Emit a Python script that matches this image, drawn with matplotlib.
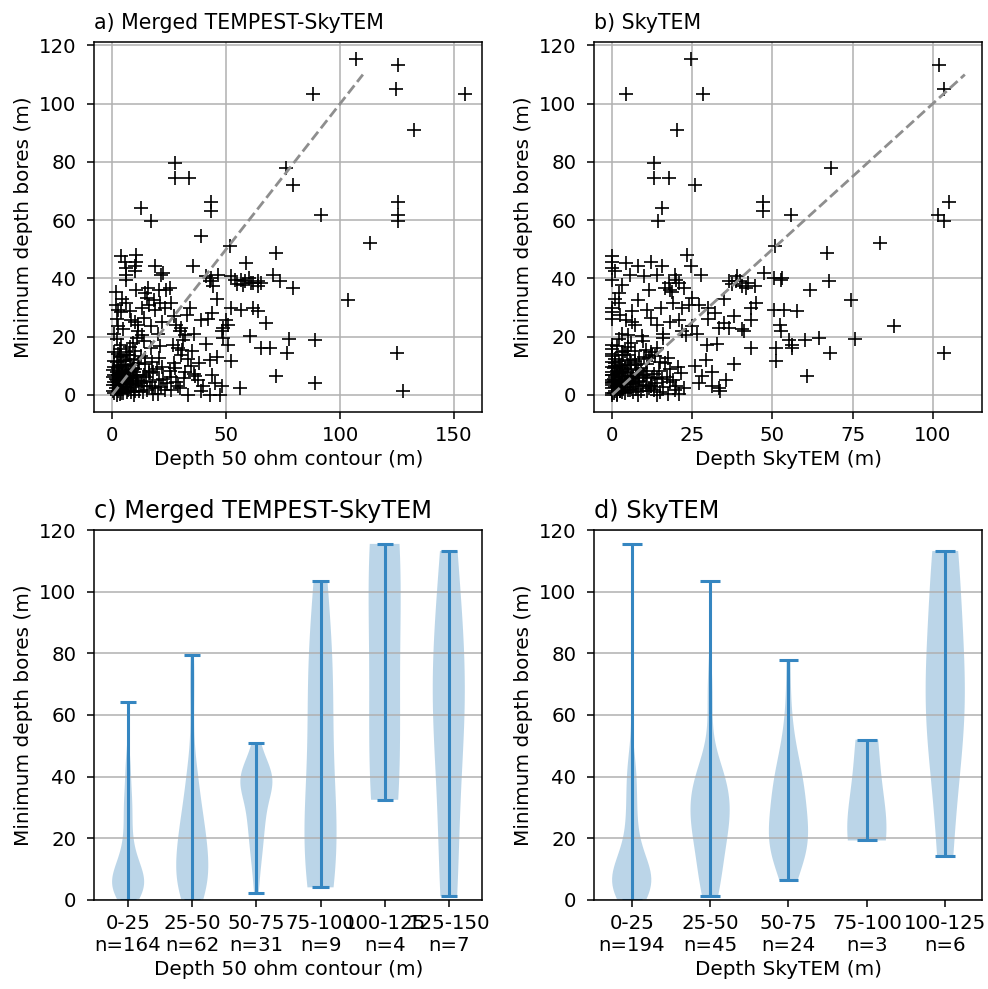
"""
Bore depth vs. 50 ohm contour depth — scatter + binned violins.
"""
import numpy as np
import matplotlib
matplotlib.use("Agg")  # headless
import matplotlib.pyplot as plt

nan = np.nan

# one entry per bore: minimum depth, merged TEMPEST-SkyTEM depth, SkyTEM depth
bore_depth = [
    115.5, 113.2, 104.9, 103.4, 103.4, 91.0, 79.6, 77.9, 74.5, 74.5, 72.2, 66.1, 66.1, 64.2, 63.0, 61.9, 61.9, 59.6, 59.6, 54.5, 52.0, 51.0,
    48.7, 48.1, 47.6, 45.8, 45.8, 45.3, 44.1, 44.1, 44.1, 43.6, 42.4, 41.8, 41.3, 41.3, 41.3, 41.3, 40.7, 40.7, 40.1, 40.0, 39.6, 39.6, 39.5, 39.0, 39.0,
    39.0, 39.0, 38.5, 38.4, 38.4, 38.0, 37.8, 37.3, 37.3, 36.7, 36.7, 36.7, 36.1, 36.1, 36.1, 35.5, 35.0,
    33.3, 33.0, 33.0, 32.7, 32.5, 31.5, 31.5, 31.5, 31.0, 31.0, 30.0, 29.8, 29.8, 29.8, 29.8, 29.2, 29.2, 29.2, 28.7, 28.7, 28.5, 28.0, 27.5, 27.0, 26.5,
    26.0, 26.0, 25.8, 25.8, 25.8, 25.2, 25.0, 24.7, 24.1, 24.1, 24.0, 23.5, 23.5, 23.0, 23.0, 22.5, 21.8, 21.8, 21.8, 21.0, 21.0, 21.0, 20.6, 20.5, 20.1,
    19.5, 19.3, 19.0, 18.7, 17.5, 17.2, 17.2, 16.1, 16.1, 16.0, 15.0, 14.4, 14.4, 13.8, 13.0, 12.1, 11.5, 11.0, 11.0, 9.8,
    8.1, 8.0, 7.0, 6.4, 6.4, 6.0, 5.2, 4.5, 4.1, 4.0, 3.0, 2.9, 2.5, 2.4, 1.8, 1.5, 1.2, 0.1, 0.1, 0.1,
    0.0, 0.2, 0.5, 0.8, 1.0, 1.2, 1.5, 1.8, 0.3, 0.6, 1.1, 1.4, 1.9, 0.4, 1.6, 0.9, 1.3, 1.7, 0.1, 2.0,
    2.2, 2.4, 2.6, 2.8, 3.0, 3.2, 3.4, 3.6, 3.8, 4.0, 4.2, 4.4, 4.6, 4.8, 2.3, 2.7, 3.1, 3.5, 3.9, 4.3, 4.7, 2.5, 2.9, 3.3, 3.7, 4.1, 4.5, 4.9,
    5.0, 5.2, 5.4, 5.6, 5.8, 6.0, 6.2, 6.4, 6.6, 6.8, 7.0, 7.2, 7.4, 7.6, 7.8, 5.1, 5.5, 5.9, 6.3, 6.7, 7.1, 7.5, 7.9, 5.3, 6.1, 6.9, 7.7, 5.7,
    8.0, 8.3, 8.6, 8.9, 9.2, 9.5, 9.8, 10.1, 10.4, 10.7, 8.2, 8.8, 9.4, 10.0, 10.6, 8.5, 9.1, 9.7, 10.3, 10.9,
    11.2, 11.6, 12.0, 12.4, 12.8, 13.2, 13.6, 11.4, 11.8, 12.2, 12.6, 13.0, 13.4, 13.8,
    14.2, 14.6, 15.0, 15.4, 15.8, 16.2, 16.6, 14.8, 16.9,
    17.3, 17.9, 18.5, 19.1, 19.7,
]
depth_merged = [
    106.9, 125.4, 124.6, 88.2, 154.7, 132.5, 27.5, 76.2, 27.5, 33.8, 79.4, 43.6, 125.3, 12.6, 43.6, 91.5, 125.3, 17.0, 125.5, 39.2, 113.0, 51.6,
    72.1, 10.7, 4.1, 5.6, 10.7, 58.9, 9.9, 19.0, 35.5, 6.3, 9.9, 22.5, 6.3, 21.6, 46.5, 70.6, 41.4, 52.3, 43.6, 60.0, 6.3, 56.7, 54.0, 42.8, 58.2,
    64.0, 73.5, 62.0, 61.1, 65.5, 55.0, 57.5, 44.3, 64.0, 79.5, 15.8, 25.3, 10.7, 20.5, 23.5, 1.9, 14.3,
    15.1, 4.5, 46.0, 18.5, 103.4, 6.0, 21.0, 26.0, 1.5, 16.0, 34.0, 12.9, 23.1, 52.3, 61.8, 2.6, 18.7, 56.7, 7.8, 64.0, 4.0, 44.0, 33.0, 27.0, 14.0,
    2.0, 42.0, 8.5, 39.2, 50.1, 10.0, 22.0, 67.7, 11.4, 50.9, 28.0, 2.5, 17.0, 30.4, 48.7, 5.0, 11.4, 29.7, 48.0, 1.0, 20.0, 36.0, 31.9, 13.0, 60.4,
    48.7, 77.4, 31.0, 89.0, 41.0, 50.9, 26.8, 65.5, 69.2, 29.0, 35.0, 76.6, 125.1, 30.4, 46.0, 42.8, 52.3, 38.0, 27.0, 34.8,
    25.3, 32.0, 44.0, 72.1, 36.3, 26.0, 37.7, 28.0, 89.0, 45.0, 40.0, 48.0, 30.0, 56.0, 26.0, 39.0, 127.4, 47.2, 42.8, 33.3,
    2.0, 3.5, 1.0, 5.0, 8.5, 12.0, 2.5, 15.5, 20.0, 4.0, 6.5, 10.0, 3.0, 18.0, 7.0, 13.5, 0.5, 23.0, 9.5, 4.5,
    1.5, 3.0, 5.5, 8.0, 29.0, 14.0, 2.0, 4.0, 6.0, 9.0, 12.5, 16.5, 2.5, 7.5, 19.0, 21.5, 3.5, 10.5, 5.0, 1.0, 13.0, 6.5, 17.5, 0.5, 8.5, 24.0, 4.5, 11.5,
    2.0, 4.0, 6.5, 9.0, 31.5, 15.0, 3.0, 5.5, 8.0, 1.0, 10.5, 36.0, 3.5, 6.0, 18.0, 20.5, 1.5, 7.0, 11.0, 2.5, 4.5, 16.0, 9.5, 22.5, 0.5, 14.0, 5.0, 8.5,
    2.0, 4.5, 7.0, 10.0, 27.5, 1.0, 3.0, 5.5, 8.5, 11.5, 16.0, 19.5, 2.5, 6.0, 14.5, 0.5, 9.0, 22.0, 4.0, 12.0,
    2.0, 5.0, 8.0, 33.5, 14.5, 3.5, 6.5, 17.5, 1.0, 9.5, 20.5, 4.0, 12.5, 7.5,
    2.5, 6.0, 10.0, 30.5, 3.5, 17.0, 8.0, 1.0, 21.0,
    4.0, 9.0, 14.0, 2.0, 11.0,
]
depth_skytem = [
    24.5, 101.9, 103.6, 28.4, 4.2, 20.1, 13.0, 68.2, 13.0, 17.7, 25.8, 46.9, 105.2, 15.6, 46.9, 55.7, 101.6, 14.4, 103.6, nan, 83.4, 50.8,
    67.0, 23.4, 0.0, 12.0, 0.0, 4.2, 24.5, 8.0, 15.6, 0.0, 1.0, 47.4, 19.5, 14.0, 27.6, 5.5, 9.9, 39.1, 50.5, 53.0, 20.0, 0.0, 52.6, 40.0, 36.5,
    67.5, 38.5, 17.7, 42.5, 21.0, 37.5, 3.0, 44.5, 40.6, 22.4, 41.7, 16.5, 61.8, 11.5, 18.2, 18.8, 2.1,
    25.0, 1.0, 35.0, 74.5, 8.0, 45.0, 2.0, 19.0, 27.0, 24.0, 30.0, 0.0, 15.1, 21.9, 43.2, 10.9, 50.5, 53.6, 57.6, 6.2, 0.0, 32.0, 2.5, 38.0, 12.0,
    30.0, 0.0, 4.2, 20.8, 43.2, 6.2, 18.2, 34.9, 7.0, 14.0, 52.4, 87.8, 25.0, 33.3, 36.5, 40.6, 52.6, 21.9, 41.1, 3.0, 26.6, 16.0, 5.0, 23.0, 9.4,
    64.4, 75.8, 60.0, 55.2, 32.8, 56.0, 29.7, 56.0, 51.0, 43.2, 4.0, 68.0, 103.6, 12.5, nan, 29.2, 51.0, 6.0, 1.0, 26.0,
    10.5, 3.0, nan, 60.7, 28.1, 17.0, 35.4, 8.0, nan, 0.0, 12.0, 31.3, 33.3, nan, 5.5, 2.5, 33.8, nan, 14.0, 1.5,
    0.0, 1.5, 4.0, 0.0, 6.5, 2.5, 9.0, 13.0, 17.5, 0.5, 3.0, 11.0, 7.5, 21.0, 5.0, 15.0, 1.0, 19.5, 8.0, 2.0,
    0.0, 3.5, 1.0, 6.0, 9.5, 12.0, 0.0, 2.0, 4.5, 7.0, 27.0, 18.0, 0.5, 5.5, 22.5, 16.0, 1.5, 10.5, 3.0, 0.0, 8.5, 11.5, 20.0, 2.5, 6.5, 13.5, 4.0, 1.0,
    0.0, 2.0, 4.0, 6.0, 8.5, 11.0, 1.0, 3.5, 5.0, 0.0, 9.5, 13.0, 2.5, 7.5, 31.0, 19.0, 0.5, 12.5, 3.0, 0.0, 1.5, 21.5, 4.5, 15.5, 6.5, 10.0, 2.0, 14.0,
    0.0, 1.5, 3.5, 6.0, 9.0, 0.0, 2.5, 5.0, 7.5, 11.0, 14.5, 18.0, 4.0, 1.0, 38.0, 8.0, 0.5, 20.5, 3.0, 16.5,
    0.0, 2.0, 5.5, 8.5, 11.5, 0.0, 3.5, 15.0, 7.0, 1.0, 17.5, 10.0, 13.5, 4.5,
    0.0, 3.0, 7.0, 10.5, 0.0, 14.0, 5.0, 12.0, 1.5,
    0.0, 6.0, 9.5, 2.0, 16.0,
]

bin_edges = [0, 25, 50, 75, 100, 125, 150]

y = np.array(bore_depth)
x_merged = np.array(depth_merged)
x_sky = np.array(depth_skytem)


def binned(x, vals, edges):
    groups, labels = [], []
    for lo, hi in zip(edges[:-1], edges[1:]):
        sel = (x >= lo) & (x < hi)
        if sel.sum() == 0:
            continue
        groups.append(vals[sel])
        labels.append(f"{lo}-{hi}\nn={sel.sum()}")
    return groups, labels


plt.rcParams.update({
    "font.size": 14.2,
    "axes.labelsize": 14.4,
    "axes.linewidth": 1.1,
    "xtick.major.size": 5, "ytick.major.size": 5,
    "xtick.major.width": 1.1, "ytick.major.width": 1.1,
    "xtick.major.pad": 5, "ytick.major.pad": 8,
    "grid.color": "#b0b0b0", "grid.linewidth": 1.1,
})

fig = plt.figure(figsize=(9.88, 9.89), dpi=100)
W, H = 0.3927, 0.3741
ax_a = fig.add_axes([0.0956, 0.5837, W, H])
ax_b = fig.add_axes([0.6017, 0.5837, W, H])
ax_c = fig.add_axes([0.0956, 0.0900, W, H])
ax_d = fig.add_axes([0.6017, 0.0900, W, H])

for ax, xx, title, xlab, xt in [
    (ax_a, x_merged, "a) Merged TEMPEST-SkyTEM", "Depth 50 ohm contour (m)", [0, 50, 100, 150]),
    (ax_b, x_sky, "b) SkyTEM", "Depth SkyTEM (m)", [0, 25, 50, 75, 100]),
]:
    ax.plot(xx, y, "+", color="k", ms=9.5, mew=1.2, ls="none")
    ax.plot([0, 110], [0, 110], "--", color="#8e8e8e", lw=2)
    ax.grid(True)
    ax.set_xticks(xt)
    ax.set_yticks(range(0, 121, 20))
    ax.set_title(title, loc="left", fontsize=14.8, pad=9)
    ax.set_xlabel(xlab)
    ax.set_ylabel("Minimum depth bores (m)")

for ax, xx, title, xlab in [
    (ax_c, x_merged, "c) Merged TEMPEST-SkyTEM", "Depth 50 ohm contour (m)"),
    (ax_d, x_sky, "d) SkyTEM", "Depth SkyTEM (m)"),
]:
    groups, labels = binned(xx, y, bin_edges)
    parts = ax.violinplot(groups)
    for key in ("cbars", "cmins", "cmaxes"):
        parts[key].set_linewidth(2.2)
        parts[key].set_color("#3586c1")
    ax.set_xticks(range(1, len(groups) + 1))
    ax.set_xticklabels(labels)
    ax.set_ylim(0, 120)
    ax.set_yticks(range(0, 121, 20))
    ax.yaxis.grid(True)
    ax.set_title(title, loc="left", fontsize=17.3, pad=9)
    ax.set_xlabel(xlab)
    ax.set_ylabel("Minimum depth bores (m)")

fig.savefig("out.png", dpi=100)
